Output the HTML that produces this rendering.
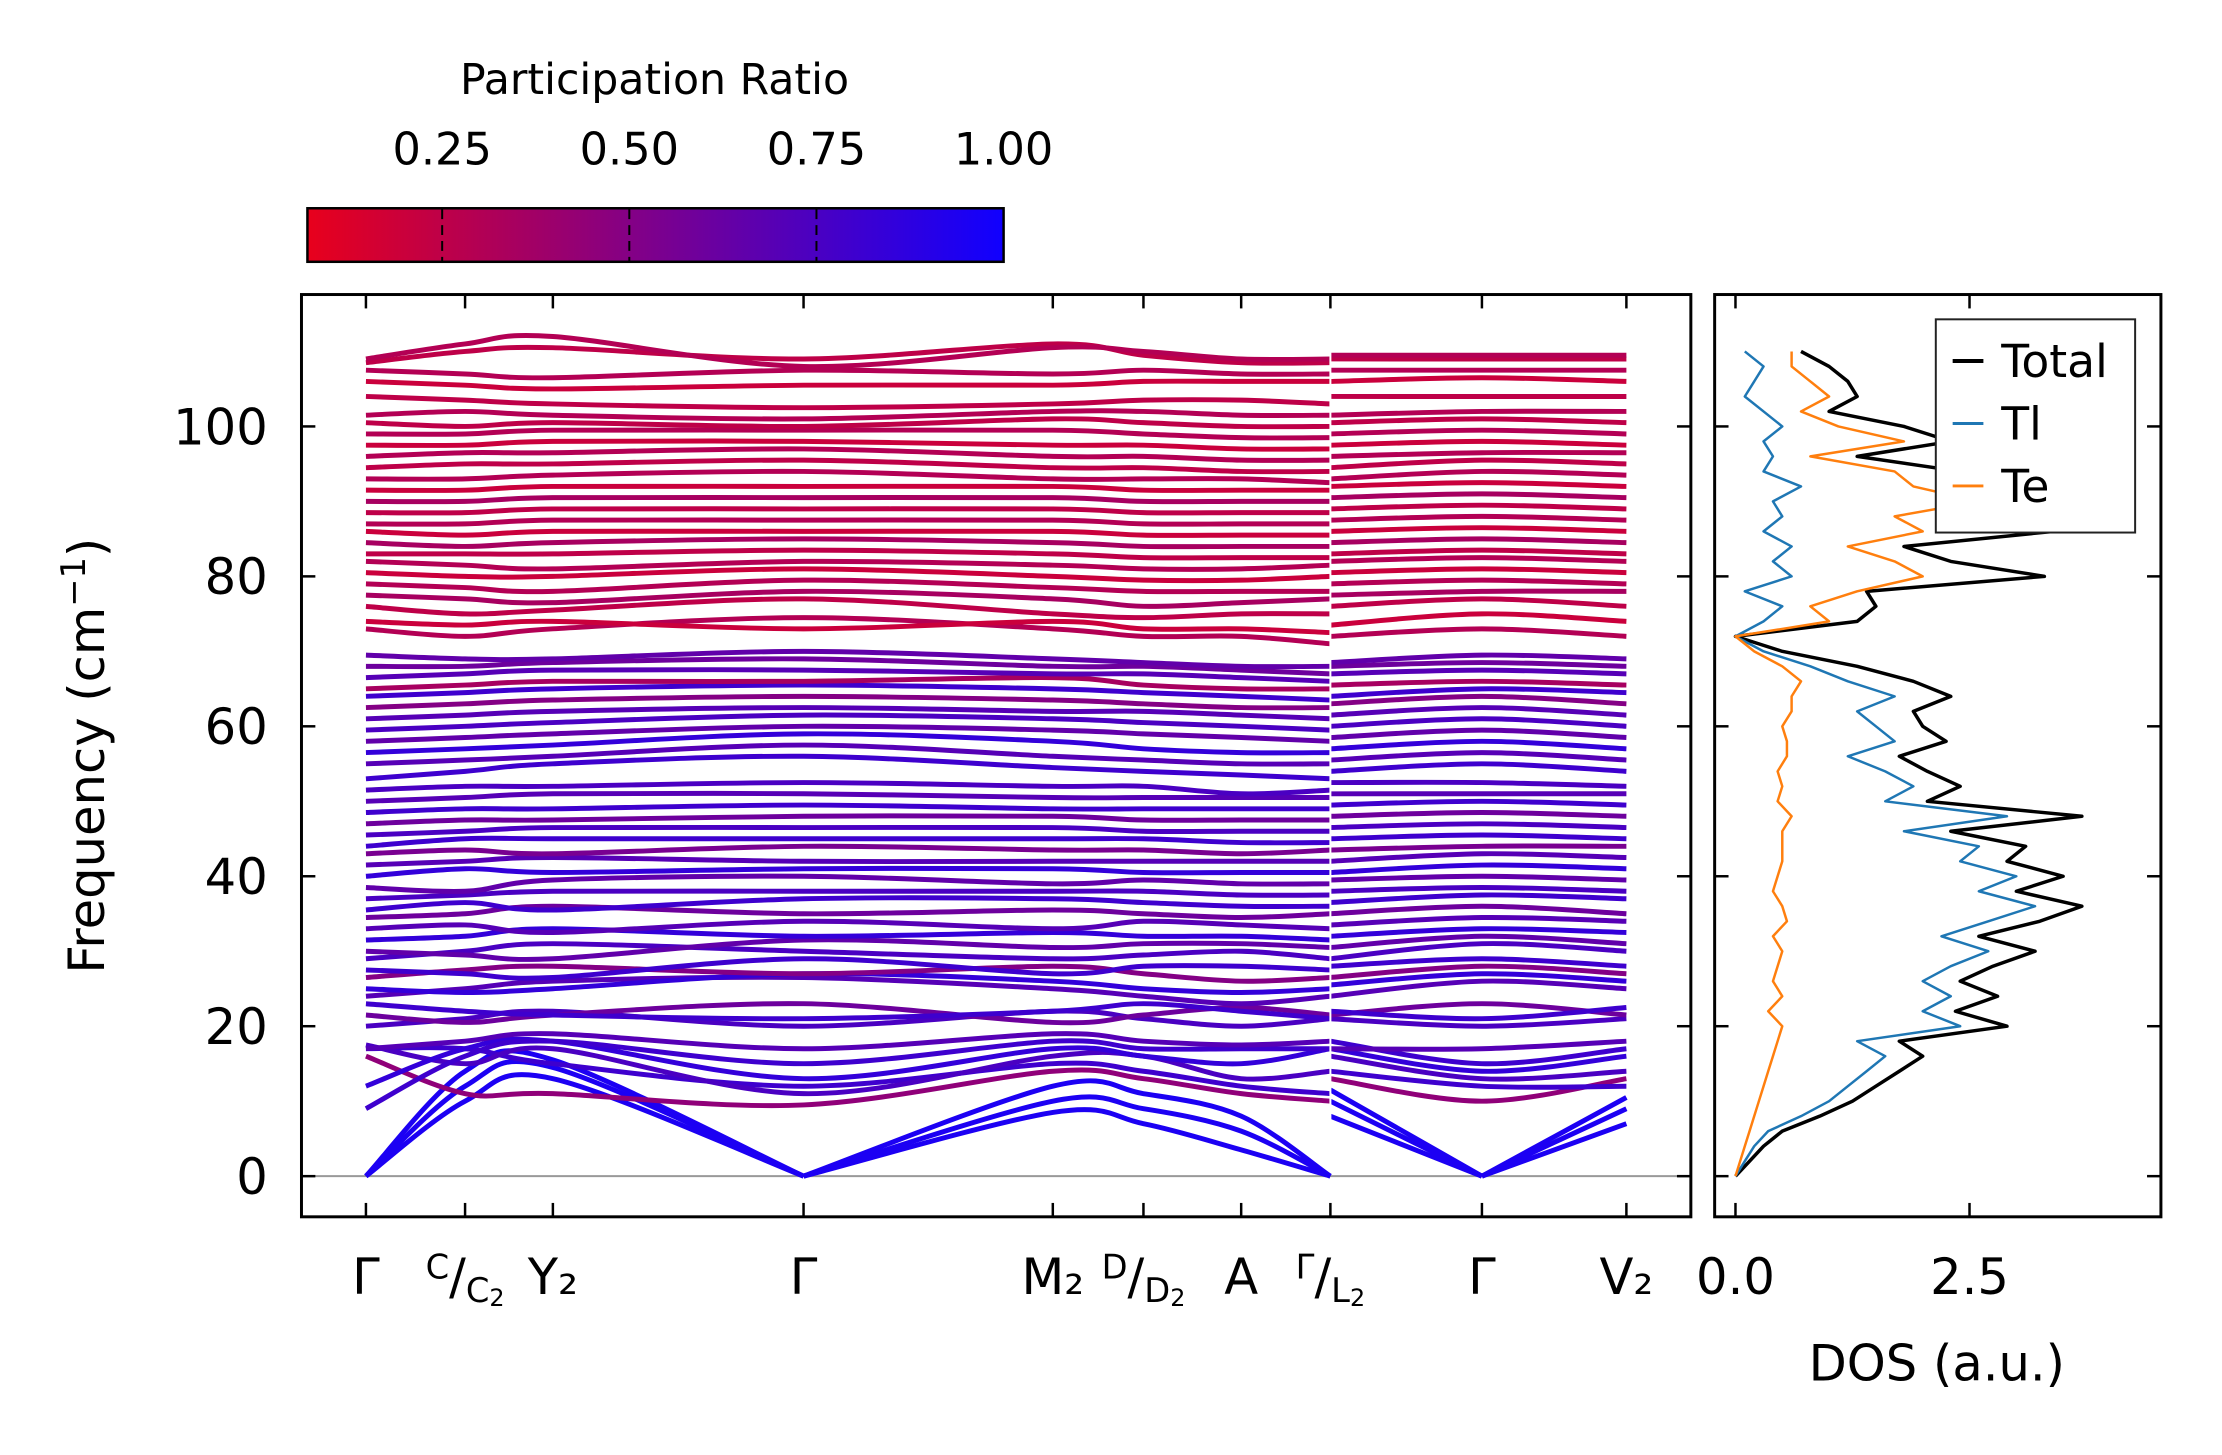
<!DOCTYPE html>
<html><head><meta charset="utf-8"><style>
html,body{margin:0;padding:0;background:#fff;}
svg{display:block;font-family:"DejaVu Sans","Liberation Sans",sans-serif;}
</style></head><body>
<svg width="2222" height="1455" viewBox="0 0 2222 1455" xmlns="http://www.w3.org/2000/svg">
<defs>
<linearGradient id="cbg" x1="0" x2="1" y1="0" y2="0">
<stop offset="0" stop-color="rgb(232,0,28)"/><stop offset="1" stop-color="rgb(16,0,255)"/>
</linearGradient>
<clipPath id="clipMain"><rect x="304" y="297" width="1401" height="930"/></clipPath>
<clipPath id="clipDos"><rect x="1729" y="297" width="450" height="930"/></clipPath>
</defs>
<g id="fig" transform="scale(0.9917)">
<g id="colorbar">
<text x="660" y="95" font-size="43" text-anchor="middle">Participation Ratio</text>
<rect x="310" y="210" width="702" height="54" fill="url(#cbg)" stroke="#000" stroke-width="2.5"/>
</g>
<g id="main">
<g id="bands" clip-path="url(#clipMain)"></g>
<rect x="304" y="297" width="1401" height="930" fill="none" stroke="#000" stroke-width="3"/>
<text transform="translate(105,762) rotate(-90)" font-size="50" text-anchor="middle">Frequency (cm<tspan baseline-shift="super" font-size="34">−1</tspan>)</text>
</g>
<g id="dos">
<g id="dosLines" clip-path="url(#clipDos)"></g>
<rect x="1729" y="297" width="450" height="930" fill="none" stroke="#000" stroke-width="3"/>
<text x="1953" y="1392" font-size="50" text-anchor="middle">DOS (a.u.)</text>
<g>
<rect x="1952" y="322" width="201" height="215" fill="#fff" stroke="#222" stroke-width="2"/>
<line x1="1969" x2="2000" y1="364" y2="364" stroke="#000" stroke-width="4"/>
<text x="2018" y="380" font-size="46">Total</text>
<line x1="1969" x2="2000" y1="427" y2="427" stroke="#1f77b4" stroke-width="3"/>
<text x="2018" y="443" font-size="46">Tl</text>
<line x1="1969" x2="2000" y1="490" y2="490" stroke="#ff7f0e" stroke-width="3"/>
<text x="2018" y="506" font-size="46">Te</text>
</g>
</g>
</g>
</svg>
<script>
const yTicks = [0,20,40,60,80,100];
const kDist = [0,0.70,1.32,3.09,4.85,5.49,6.18,6.81,6.81,7.88,8.90];
const kLabels = ["Γ","C/C2","Y2","Γ","M2","D/D2","A","Γ/L2","","Γ","V2"];
const cbTicks = [0.25,0.50,0.75,1.00];
const cbTickLabels = ["0.25","0.50","0.75","1.00"];
const acoustic1 = [0,10,13,0,8.5,7,3.5,0,8,0,7];
const acoustic2 = [0,12,14.5,0,10,9,6,0,10,0,9];
const acoustic3 = [0,14,15.5,0,12,11,8,0,11.5,0,10.5];
const bandPR = [0.95,0.95,0.95,
0.45,0.8,0.75,0.85,0.8,0.7,
0.75,0.6,0.8,0.7,0.85,0.5,0.8,0.75,0.65,0.85,0.7,0.6,0.8,0.75,0.65,0.85,0.7,0.55,0.8,0.75,0.6,0.8,0.7,0.75,
0.8,0.7,0.85,0.65,0.75,0.7,0.5,0.8,0.35,0.7,0.6,0.65,
0.3,0.2,0.25,0.35,0.3,0.2,0.3,0.25,0.35,0.2,0.3,0.25,0.35,0.2,0.3,0.25,0.3,0.2,0.3,0.25,0.3,0.25,0.2,0.3,0.25,0.3];
const opticalBands = [
[16,11,11,9.5,14,13,11,10,13,10,13],
[17,17,15,12,15,14,12,11,14,12,12],
[17.5,15,17,11,16,16,13,14,16,13,14],
[12,17,18,13,17,16,15,17,17,14,16],
[9,16,18,15,18,17,17,17,18,15,17],
[17,18,19,17,19,18,17.5,18,17,17,18],
[20,21,22,20,22,21,20,21,21,20,21],
[21.5,20.5,21.5,23,20.5,21.5,22.5,21.5,21.5,23,21.5],
[23,22,21.5,21,22,23,22,21,22,21,22.5],
[24,25,26,26.5,25,24,23,24,24,26,25],
[25,24.5,25,27,26,25,24.5,25,25.5,27,26],
[26.5,27.5,28,27,28,27,26,26.5,26.5,28,27],
[27.5,27,26.5,29,27,28,28,27.5,28,29,28],
[29,30,31,30,29,29.5,30,29,29,31,30],
[30,29.5,29,31.5,30.5,31,31,30.5,30.5,32,31],
[31.5,32,33,32,32.5,32,32,31.5,32,33,32.5],
[33,33.5,32.5,34,33,34,33.5,33,33.5,34.5,34],
[34.5,35,36,35,35.5,35,34.5,35,35,36,35],
[35.5,36.5,35.5,37,37,36.5,36,36,36.5,37.5,37],
[37,37.5,38,38,38,38,37.5,37.5,38,38.5,38],
[38.5,38,39.5,40,39,39.5,39,39,39.5,40,39.5],
[40,41,40.5,41,41,40.5,40.5,40.5,40.5,41.5,41],
[41.5,42,42.5,42,42,42,42,42,42,43,42.5],
[43,43.5,43,44,43.5,43.5,43,43.5,43.5,44,44],
[44,45,45,45,45,45,44.5,44.5,45,45.5,45],
[45.5,46,46.5,46.5,46.5,46,46,46,46.5,47,46.5],
[47,47.5,47.5,48,48,47.5,47.5,47.5,48,48.5,48],
[48.5,49,49,49.5,49,49,49,49,49.5,50,49.5],
[50,50.5,51,51,50.5,50.5,50.5,50.5,51,51,51],
[51.5,52,52,52.5,52,52,51,51.5,52.5,52.5,52],
[53,54,55,56,54.5,54,53.5,53,54,55,54],
[55,55.5,56,57.5,56,55.5,55,55,55.5,56.5,55.5],
[56.5,57,57.5,59,58,57,56.5,56.5,57,58,57],
[58,58.5,59,60,59.5,59,58.5,58,58.5,59.5,58.5],
[59.5,60,60.5,61.5,61,60.5,60,59.5,60,61,60],
[61,61.5,62,62.5,62,62,61.5,61,61.5,62.5,61.5],
[62.5,63,63.5,64,63.5,63,62.5,62.5,63,64,63],
[64,64.5,65,65.5,65,64.5,64,63.5,64,65,64.5],
[65,65.5,66,66,66.5,65.5,65,65,65.5,66,65.5],
[66.5,67,67.5,67.5,67,67,66.5,66,67,67.5,67],
[68,68,68.5,69,68,68,67.5,67,68,68.5,68],
[69.5,69,69,70,69,68.5,68,68,68.5,69.5,69],
[73,72,73,74.5,73,72,72,71,72,73,72],
[74,73.5,74,73,74,73,73,72.5,73.5,75,74],
[76,75,75.5,77,75,74.5,75,75,76,77,76],
[77.5,77,76.5,78,77,76,76.5,77,77.5,78,78],
[79,78.5,78,79.5,78.5,78,78,78,79,79.5,79],
[80.5,80,80,81,80,79.5,79.5,80,80.5,81,80.5],
[82,81.5,81,82,81.5,81,81,81.5,82,82.5,82],
[83,83,83,83.5,83,82.5,82.5,82.5,83,83.5,83],
[84.5,84,84.5,85,84.5,84,84,84,84.5,85,84.5],
[86,85.5,86,86,86,85.5,85.5,85.5,86,86.5,86],
[87,87,87.5,87.5,87.5,87,87,87,87.5,88,87.5],
[88.5,88.5,89,89,89,88.5,88.5,88.5,89,89.5,89],
[90,90,90.5,90.5,90.5,90,90,90,90.5,91,90.5],
[91.5,91.5,92,92,92,91.5,91.5,91.5,92,92.5,92],
[93,93,93.5,94,93,93,93,92.5,93,94,93.5],
[94.5,95,95,95.5,94.5,94.5,94,94,94.5,95.5,95],
[96,96.5,96.5,97,96,96,95.5,95.5,96,96.5,96.5],
[97.5,97.5,98,98,97.5,97.5,97,97,97.5,98,97.5],
[99,99,99.5,99.5,99.5,99,98.5,98.5,99,99.5,99],
[100.5,100,100.5,100,101,100.5,100,100,100.5,101,100.5],
[101.5,102,101.5,101,102,102,101.5,101.5,101.5,102,102],
[104,103.5,103,102.5,103,103.5,103.5,103,104,104,104],
[106,105.5,105,105.5,105.5,106,106,106,106,106.5,106],
[107.5,107,106.5,107.5,107,107.5,107,107,107.5,107.5,107.5],
[108.5,110,110.5,109,111,109.5,108.5,108.5,109,109,109],
[109,111,112,108,110.5,110,109,109,109.5,109.5,109.5]];
const dosFreq = [0,2,4,6,8,10,12,14,16,18,20,22,24,26,28,30,32,34,36,38,40,42,44,46,48,50,52,54,56,58,60,62,64,66,68,70,72,74,76,78,80,82,84,86,88,90,92,94,96,98,100,102,104,106,108,110];
const dosTl = [0,0.1,0.2,0.35,0.7,1.0,1.2,1.4,1.6,1.3,2.4,2.0,2.3,2.0,2.3,2.7,2.2,2.7,3.2,2.6,3.0,2.4,2.6,1.8,2.9,1.6,1.9,1.6,1.2,1.7,1.5,1.3,1.7,1.2,0.8,0.3,0.0,0.3,0.5,0.1,0.6,0.4,0.6,0.3,0.5,0.4,0.7,0.3,0.4,0.3,0.5,0.3,0.1,0.2,0.3,0.1];
const dosTe = [0,0.05,0.1,0.15,0.2,0.25,0.3,0.35,0.4,0.45,0.5,0.35,0.5,0.4,0.45,0.5,0.4,0.55,0.5,0.4,0.45,0.5,0.5,0.5,0.6,0.45,0.5,0.45,0.55,0.55,0.5,0.6,0.6,0.7,0.5,0.2,0.0,1.0,0.8,1.3,2.0,1.7,1.2,2.0,1.7,2.6,1.9,1.7,0.8,1.8,1.1,0.7,1.0,0.8,0.6,0.6];
const dosTotal = [0,0.15,0.3,0.5,0.9,1.25,1.5,1.75,2.0,1.75,2.9,2.35,2.8,2.4,2.75,3.2,2.6,3.25,3.7,3.0,3.5,2.9,3.1,2.3,3.7,2.05,2.4,2.05,1.75,2.25,2.0,1.9,2.3,1.9,1.3,0.5,0.0,1.3,1.5,1.4,3.3,2.3,1.8,3.4,2.6,4.2,2.8,2.4,1.3,2.3,1.8,1.0,1.3,1.2,1.0,0.7];
const dosXTicks = [0,2.5];
const dosXTickLabels = ["0.0","2.5"];

const NS="http://www.w3.org/2000/svg";
const yS = f => 1186 - f*7.56;
const kS = d => 369 + d*(1640-369)/8.9;
const dS = v => 1750 + v*94.4;
const cbS = v => 310 + (v-0.07)/0.93*702;
function colorPR(p){const t=Math.max(0,Math.min(1,(p-0.07)/0.93));
 return `rgb(${Math.round(232+(16-232)*t)},0,${Math.round(28+(255-28)*t)})`;}
function mk(tag,attrs,parent){const e=document.createElementNS(NS,tag);for(const k in attrs)e.setAttribute(k,attrs[k]);parent.appendChild(e);return e;}
function crPath(pts){let d=`M${pts[0][0]},${pts[0][1]}`;
 for(let i=0;i<pts.length-1;i++){const p0=pts[Math.max(0,i-1)],p1=pts[i],p2=pts[i+1],p3=pts[Math.min(pts.length-1,i+2)];
  const c1=[p1[0]+(p2[0]-p0[0])/6,p1[1]+(p2[1]-p0[1])/6],c2=[p2[0]-(p3[0]-p1[0])/6,p2[1]-(p3[1]-p1[1])/6];
  d+=`C${c1[0].toFixed(1)},${c1[1].toFixed(1)} ${c2[0].toFixed(1)},${c2[1].toFixed(1)} ${p2[0].toFixed(1)},${p2[1].toFixed(1)}`;}
 return d;}

const fig=document.getElementById('fig');
const bandsG=document.getElementById('bands');
const zl=mk('line',{x1:304,x2:1705,y1:yS(0),y2:yS(0),stroke:'#999','stroke-width':2},bandsG);


const allBands=[acoustic1,acoustic2,acoustic3].concat(opticalBands);
allBands.forEach((b,bi)=>{
 const col=colorPR(bandPR[bi]);
 const groups=[[0,1,2,3,4,5,6,7],[8,9,10]];
 groups.forEach(g=>{
  let seg=[];
  const segs=[];
  g.forEach((i,j)=>{
   seg.push([kS(kDist[i]),yS(b[i])]);
   if(b[i]===0 && j>0 && j<g.length-1){segs.push(seg);seg=[[kS(kDist[i]),yS(b[i])]];}
  });
  segs.push(seg);
  segs.forEach(s=>{
   if(s.length<2)return;
   const p=mk('path',{d:crPath(s),fill:'none',stroke:col,'stroke-width':5,'stroke-linecap':'butt'},bandsG);
   
   
  });
 });
});
const seam=mk('line',{x1:kS(kDist[7]),x2:kS(kDist[7]),y1:297,y2:1180,stroke:'#fff','stroke-width':2},bandsG);



yTicks.forEach(t=>{
 const y=yS(t);
 const a=mk('line',{x1:304,x2:318,y1:y,y2:y,stroke:'#000','stroke-width':2.5},fig);
 
 
 const b=mk('line',{x1:1691,x2:1705,y1:y,y2:y,stroke:'#000','stroke-width':2.5},fig);
 
 
 const tx=mk('text',{x:270,y:y+18,'font-size':50,'text-anchor':'end'},fig);
 tx.textContent=String(t);
 
 
 const c=mk('line',{x1:1729,x2:1743,y1:y,y2:y,stroke:'#000','stroke-width':2.5},fig);
 
 
 const d=mk('line',{x1:2165,x2:2179,y1:y,y2:y,stroke:'#000','stroke-width':2.5},fig);
 
 
});
kDist.forEach((d,i)=>{
 if(i===8)return;
 const x=kS(d);
 const a=mk('line',{x1:x,x2:x,y1:1213,y2:1227,stroke:'#000','stroke-width':2.5},fig);
 
 
 const b=mk('line',{x1:x,x2:x,y1:297,y2:311,stroke:'#000','stroke-width':2.5},fig);
 
 
});
function kLabel(i,html){
 const t=mk('text',{x:kS(kDist[i]),y:1305,'font-size':50,'text-anchor':'middle'},fig);
 t.innerHTML=html;
 
 
}
kLabel(0,kLabels[0]);
kLabel(1,'<tspan font-size="34" dy="-16">C</tspan><tspan dy="16">/</tspan><tspan font-size="34" dy="8">C</tspan><tspan font-size="24" dy="4">2</tspan>');
kLabel(2,'Y₂');
kLabel(3,kLabels[3]);
kLabel(4,'M₂');
kLabel(5,'<tspan font-size="34" dy="-16">D</tspan><tspan dy="16">/</tspan><tspan font-size="34" dy="8">D</tspan><tspan font-size="24" dy="4">2</tspan>');
kLabel(6,'A');
kLabel(7,'<tspan font-size="34" dy="-16">Γ</tspan><tspan dy="16">/</tspan><tspan font-size="34" dy="8">L</tspan><tspan font-size="24" dy="4">2</tspan>');
kLabel(9,kLabels[9]);
kLabel(10,'V₂');
const dosG=document.getElementById('dosLines');
function dosLine(vals,col,w,name){
 const pts=vals.map((v,i)=>`${dS(v).toFixed(1)},${yS(dosFreq[i]).toFixed(1)}`).join(' ');
 const p=mk('polyline',{points:pts,fill:'none',stroke:col,'stroke-width':w,'stroke-linejoin':'round'},dosG);
 
 
}
dosLine(dosTotal,'#000',3.5,'dos-total-line');
dosLine(dosTl,'#1f77b4',2.5,'dos-tl-line');
dosLine(dosTe,'#ff7f0e',2.5,'dos-te-line');
dosXTicks.forEach((v,i)=>{
 const x=dS(v);
 const a=mk('line',{x1:x,x2:x,y1:1213,y2:1227,stroke:'#000','stroke-width':2.5},fig);
 
 
 const b=mk('line',{x1:x,x2:x,y1:297,y2:311,stroke:'#000','stroke-width':2.5},fig);
 
 
 const t=mk('text',{x:x,y:1305,'font-size':50,'text-anchor':'middle'},fig);
 t.textContent=dosXTickLabels[i];
 
 
});
cbTicks.forEach((v,i)=>{
 const x=cbS(v);
 if(v<1){
  const l=mk('line',{x1:x,x2:x,y1:211,y2:263,stroke:'#000','stroke-width':2,'stroke-dasharray':'10,6'},fig);
  
  
 }
 const t=mk('text',{x:x,y:166,'font-size':45,'text-anchor':'middle'},fig);
 t.textContent=cbTickLabels[i];
 
 
});
</script>
</body></html>
